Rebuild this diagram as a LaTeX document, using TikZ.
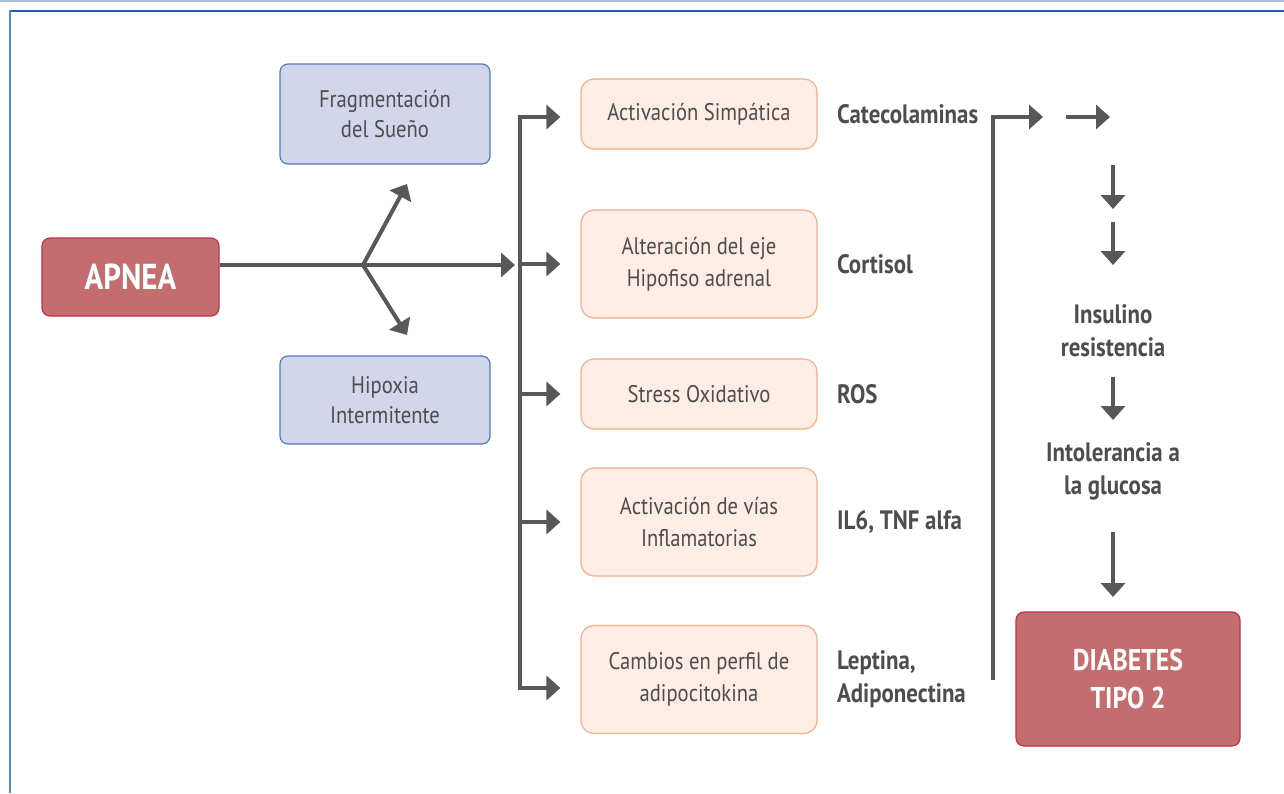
\documentclass[tikz,border=0pt]{standalone}
\usepackage{fontspec}
\setmainfont{PT Sans}[FakeStretch=0.86]
\definecolor{ArrowGray}{HTML}{58585A}
\definecolor{TextGray}{HTML}{4D4D4F}
\definecolor{ApneaRed}{HTML}{C46D6E}
\definecolor{ApneaEdge}{HTML}{C1314E}
\definecolor{LavFill}{HTML}{D3D6EA}
\definecolor{LavEdge}{HTML}{4D7CC1}
\definecolor{PeachFill}{HTML}{FDEDE4}
\definecolor{PeachEdge}{HTML}{F4AE88}
\definecolor{FrameBlue}{HTML}{1F5FB0}
\definecolor{FrameLight}{HTML}{5289C7}
\definecolor{BandBlue}{HTML}{A9BCDA}
\usetikzlibrary{arrows.meta, positioning}

\begin{document}
\begin{tikzpicture}[x=0.5pt, y=-0.5pt, >={Triangle[length=7pt,width=12pt]},
    flow/.style={->, line width=2pt, draw=ArrowGray},
    cause/.style={draw=ApneaEdge, line width=0.6pt, fill=ApneaRed,
                  rounded corners=4pt, inner sep=0pt, text=white, align=center},
    effect/.style={draw=LavEdge, line width=0.6pt, fill=LavFill,
                   rounded corners=4pt, inner sep=0pt, minimum width=105pt,
                   text=TextGray, align=center, font=\fontsize{12}{15}\selectfont},
    mech/.style={draw=PeachEdge, line width=0.6pt, fill=PeachFill,
                 rounded corners=6.5pt, inner sep=0pt, minimum width=118pt,
                 text=TextGray, align=center, font=\fontsize{12}{16}\selectfont},
    marker/.style={text=TextGray, align=left, anchor=west, inner sep=0pt,
                   font=\bfseries\fontsize{13.3}{16.5}\selectfont},
    stage/.style={text=TextGray, align=center,
                  font=\bfseries\fontsize{13.3}{16.5}\selectfont}]
  \useasboundingbox (0,0) rectangle (1284,793);
  \fill[white] (0,0) rectangle (1284,793);

  % Frame
  \draw[BandBlue, line width=1pt] (0,1) -- (1284,1);
  \draw[FrameBlue, line width=1pt] (9,10.5) -- (1284,10.5);
  \draw[FrameLight, line width=1pt] (10,10) -- (10,793);

  % Start and end
  \node[cause, minimum width=88.5pt, minimum height=39pt,
        font=\bfseries\fontsize{18}{20}\selectfont] (apnea) at (130.5,277) {APNEA};
  \node[cause, minimum width=112pt, minimum height=67pt,
        font=\bfseries\fontsize{15}{19}\selectfont] (diab) at (1128,679) {DIABETES\\TIPO 2};

  % First effects
  \node[effect, minimum height=50pt] (frag) at (385,114) {Fragmentación\\del Sueño};
  \node[effect, minimum height=44pt] (hipox) at (385,400) {Hipoxia\\Intermitente};

  % Mechanisms
  \node[mech, minimum height=35pt] (simp) at (699,114) {Activación Simpática};
  \node[mech, minimum height=54pt] (eje) at (699,264) {Alteración del eje\\Hipofiso adrenal};
  \node[mech, minimum height=35pt] (ros) at (699,394) {Stress Oxidativo};
  \node[mech, minimum height=54pt] (infl) at (699,522) {Activación de vías\\Inflamatorias};
  \node[mech, minimum height=54pt] (adipo) at (699,679.5) {Cambios en perfil de\\adipocitokina};

  % Mediators
  \node[marker, right=9.5pt of simp] (cat) {Catecolaminas};
  \node[marker, right=9.5pt of eje] (cort) {Cortisol};
  \node[marker, right=9.5pt of ros] (rosl) {ROS};
  \node[marker, right=9.5pt of infl] (il6) {IL6, TNF alfa};
  \node[marker, right=9.5pt of adipo] (lept) {Leptina,\\Adiponectina};

  % Metabolic stages
  \node[stage] (insul) at (1113,331) {Insulino\\resistencia};
  \node[stage] (intol) at (1113,471) {Intolerancia a\\la glucosa};

  % Left arrows
  \coordinate (split) at (363,265);
  \coordinate (fragtip) at (407,184);
  \coordinate (hiptip) at (407,335);
  \coordinate (busT) at (520,117);
  \coordinate (busB) at (520,688);
  \draw[flow, shorten >=2.5pt] (apnea.east |- split) -- (busT |- split);
  \draw[flow] (split) -- (fragtip);
  \draw[flow] (split) -- (hiptip);
  \draw[flow, <->, shorten <=10pt, shorten >=10pt]
    (simp.west |- busT) -- (busT) -- (busB) -- (adipo.west |- busB);
  \foreach \n in {eje, ros, infl}
    \draw[flow, shorten >=10pt] (busT |- \n.west) -- (\n.west);

  % Right arrows
  \coordinate (busRB) at (993,680);
  \coordinate (busRT) at (993,117);
  \coordinate (tipA) at (1043,117);
  \coordinate (stubA) at (1066,117);
  \coordinate (tipB) at (1110,117);
  \draw[flow] (busRB) -- (busRT) -- (tipA);
  \draw[flow] (stubA) -- (tipB);
  \coordinate (d1a) at (1113,165);
  \coordinate (d1b) at (1113,209);
  \coordinate (d2a) at (1113,222);
  \coordinate (d2b) at (1113,265);
  \coordinate (d3a) at (1113,377);
  \coordinate (d3b) at (1113,420);
  \coordinate (d4a) at (1113,532);
  \coordinate (d4b) at (1113,597);
  \draw[flow] (d1a) -- (d1b);
  \draw[flow] (d2a) -- (d2b);
  \draw[flow] (d3a) -- (d3b);
  \draw[flow] (d4a) -- (d4b);
\end{tikzpicture}
\end{document}
